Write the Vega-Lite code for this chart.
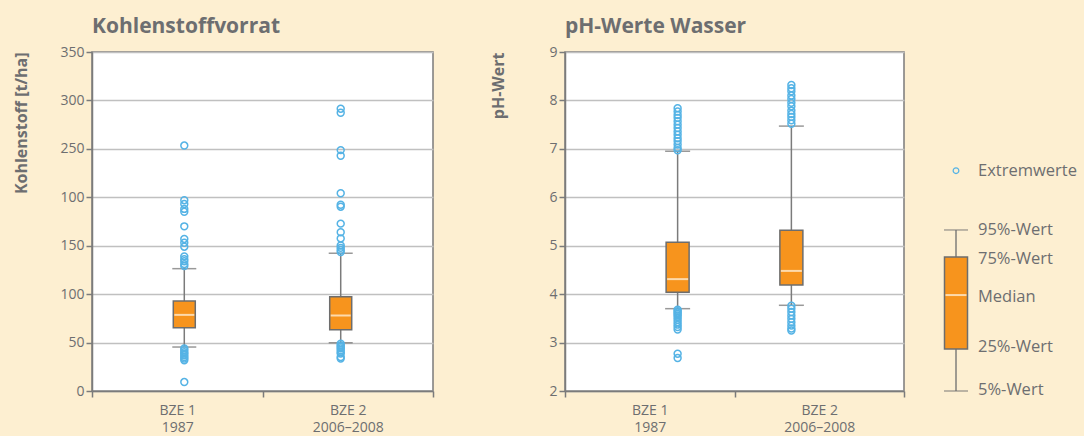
{
  "$schema": "https://vega.github.io/schema/vega-lite/v6.json",
  "background": "#fdefd1",
  "padding": {"left": 13, "top": 15, "right": 14, "bottom": 10},
  "datasets": {
    "summary": [
      {"panel": "C", "group": "BZE 1\n1987", "p5": 45.4, "q1": 65.3, "median": 78.6, "q3": 92.9, "p95": 126.3},
      {"panel": "C", "group": "BZE 2\n2006–2008", "p5": 49.9, "q1": 63.2, "median": 77.9, "q3": 97.3, "p95": 142.1},
      {"panel": "P", "group": "BZE 1\n1987", "p5": 3.70, "q1": 4.04, "median": 4.31, "q3": 5.07, "p95": 6.95},
      {"panel": "P", "group": "BZE 2\n2006–2008", "p5": 3.77, "q1": 4.19, "median": 4.48, "q3": 5.32, "p95": 7.47}
    ],
    "outliers": [
      {"panel": "C", "group": "BZE 1\n1987", "value": 253.4},
      {"panel": "C", "group": "BZE 1\n1987", "value": 197},
      {"panel": "C", "group": "BZE 1\n1987", "value": 193},
      {"panel": "C", "group": "BZE 1\n1987", "value": 188},
      {"panel": "C", "group": "BZE 1\n1987", "value": 185},
      {"panel": "C", "group": "BZE 1\n1987", "value": 170},
      {"panel": "C", "group": "BZE 1\n1987", "value": 157},
      {"panel": "C", "group": "BZE 1\n1987", "value": 153},
      {"panel": "C", "group": "BZE 1\n1987", "value": 149},
      {"panel": "C", "group": "BZE 1\n1987", "value": 139},
      {"panel": "C", "group": "BZE 1\n1987", "value": 136},
      {"panel": "C", "group": "BZE 1\n1987", "value": 134},
      {"panel": "C", "group": "BZE 1\n1987", "value": 131},
      {"panel": "C", "group": "BZE 1\n1987", "value": 129},
      {"panel": "C", "group": "BZE 1\n1987", "value": 44},
      {"panel": "C", "group": "BZE 1\n1987", "value": 42},
      {"panel": "C", "group": "BZE 1\n1987", "value": 40},
      {"panel": "C", "group": "BZE 1\n1987", "value": 38.6},
      {"panel": "C", "group": "BZE 1\n1987", "value": 37},
      {"panel": "C", "group": "BZE 1\n1987", "value": 35},
      {"panel": "C", "group": "BZE 1\n1987", "value": 33.5},
      {"panel": "C", "group": "BZE 1\n1987", "value": 31.8},
      {"panel": "C", "group": "BZE 1\n1987", "value": 9.2},
      {"panel": "C", "group": "BZE 2\n2006–2008", "value": 291.4},
      {"panel": "C", "group": "BZE 2\n2006–2008", "value": 287.3},
      {"panel": "C", "group": "BZE 2\n2006–2008", "value": 248.7},
      {"panel": "C", "group": "BZE 2\n2006–2008", "value": 242.9},
      {"panel": "C", "group": "BZE 2\n2006–2008", "value": 204.2},
      {"panel": "C", "group": "BZE 2\n2006–2008", "value": 192.3},
      {"panel": "C", "group": "BZE 2\n2006–2008", "value": 190.3},
      {"panel": "C", "group": "BZE 2\n2006–2008", "value": 172.8},
      {"panel": "C", "group": "BZE 2\n2006–2008", "value": 163.9},
      {"panel": "C", "group": "BZE 2\n2006–2008", "value": 157.5},
      {"panel": "C", "group": "BZE 2\n2006–2008", "value": 150.3},
      {"panel": "C", "group": "BZE 2\n2006–2008", "value": 147.8},
      {"panel": "C", "group": "BZE 2\n2006–2008", "value": 145.5},
      {"panel": "C", "group": "BZE 2\n2006–2008", "value": 143.5},
      {"panel": "C", "group": "BZE 2\n2006–2008", "value": 48.9},
      {"panel": "C", "group": "BZE 2\n2006–2008", "value": 47},
      {"panel": "C", "group": "BZE 2\n2006–2008", "value": 45.4},
      {"panel": "C", "group": "BZE 2\n2006–2008", "value": 44},
      {"panel": "C", "group": "BZE 2\n2006–2008", "value": 42},
      {"panel": "C", "group": "BZE 2\n2006–2008", "value": 40},
      {"panel": "C", "group": "BZE 2\n2006–2008", "value": 38.6},
      {"panel": "C", "group": "BZE 2\n2006–2008", "value": 35.1},
      {"panel": "C", "group": "BZE 2\n2006–2008", "value": 33.5},
      {"panel": "P", "group": "BZE 1\n1987", "value": 7.84},
      {"panel": "P", "group": "BZE 1\n1987", "value": 7.77},
      {"panel": "P", "group": "BZE 1\n1987", "value": 7.70},
      {"panel": "P", "group": "BZE 1\n1987", "value": 7.64},
      {"panel": "P", "group": "BZE 1\n1987", "value": 7.57},
      {"panel": "P", "group": "BZE 1\n1987", "value": 7.50},
      {"panel": "P", "group": "BZE 1\n1987", "value": 7.43},
      {"panel": "P", "group": "BZE 1\n1987", "value": 7.36},
      {"panel": "P", "group": "BZE 1\n1987", "value": 7.29},
      {"panel": "P", "group": "BZE 1\n1987", "value": 7.22},
      {"panel": "P", "group": "BZE 1\n1987", "value": 7.16},
      {"panel": "P", "group": "BZE 1\n1987", "value": 7.09},
      {"panel": "P", "group": "BZE 1\n1987", "value": 7.02},
      {"panel": "P", "group": "BZE 1\n1987", "value": 6.97},
      {"panel": "P", "group": "BZE 1\n1987", "value": 3.68},
      {"panel": "P", "group": "BZE 1\n1987", "value": 3.65},
      {"panel": "P", "group": "BZE 1\n1987", "value": 3.62},
      {"panel": "P", "group": "BZE 1\n1987", "value": 3.59},
      {"panel": "P", "group": "BZE 1\n1987", "value": 3.56},
      {"panel": "P", "group": "BZE 1\n1987", "value": 3.52},
      {"panel": "P", "group": "BZE 1\n1987", "value": 3.47},
      {"panel": "P", "group": "BZE 1\n1987", "value": 3.42},
      {"panel": "P", "group": "BZE 1\n1987", "value": 3.37},
      {"panel": "P", "group": "BZE 1\n1987", "value": 3.32},
      {"panel": "P", "group": "BZE 1\n1987", "value": 3.27},
      {"panel": "P", "group": "BZE 1\n1987", "value": 2.77},
      {"panel": "P", "group": "BZE 1\n1987", "value": 2.68},
      {"panel": "P", "group": "BZE 2\n2006–2008", "value": 8.32},
      {"panel": "P", "group": "BZE 2\n2006–2008", "value": 8.25},
      {"panel": "P", "group": "BZE 2\n2006–2008", "value": 8.19},
      {"panel": "P", "group": "BZE 2\n2006–2008", "value": 8.10},
      {"panel": "P", "group": "BZE 2\n2006–2008", "value": 8.03},
      {"panel": "P", "group": "BZE 2\n2006–2008", "value": 7.95},
      {"panel": "P", "group": "BZE 2\n2006–2008", "value": 7.88},
      {"panel": "P", "group": "BZE 2\n2006–2008", "value": 7.79},
      {"panel": "P", "group": "BZE 2\n2006–2008", "value": 7.72},
      {"panel": "P", "group": "BZE 2\n2006–2008", "value": 7.66},
      {"panel": "P", "group": "BZE 2\n2006–2008", "value": 7.59},
      {"panel": "P", "group": "BZE 2\n2006–2008", "value": 7.52},
      {"panel": "P", "group": "BZE 2\n2006–2008", "value": 3.76},
      {"panel": "P", "group": "BZE 2\n2006–2008", "value": 3.70},
      {"panel": "P", "group": "BZE 2\n2006–2008", "value": 3.63},
      {"panel": "P", "group": "BZE 2\n2006–2008", "value": 3.56},
      {"panel": "P", "group": "BZE 2\n2006–2008", "value": 3.49},
      {"panel": "P", "group": "BZE 2\n2006–2008", "value": 3.42},
      {"panel": "P", "group": "BZE 2\n2006–2008", "value": 3.35},
      {"panel": "P", "group": "BZE 2\n2006–2008", "value": 3.29},
      {"panel": "P", "group": "BZE 2\n2006–2008", "value": 3.25}
    ],
    "legendBox": [
      {"k": "L", "p5": 0, "q1": 12.4, "median": 28.3, "q3": 39.5, "p95": 47.5}
    ],
    "legendLabels": [
      {"k": "L", "label": "Extremwerte", "v": 65},
      {"k": "L", "label": "95%-Wert", "v": 47.5},
      {"k": "L", "label": "75%-Wert", "v": 39},
      {"k": "L", "label": "Median", "v": 27.7},
      {"k": "L", "label": "25%-Wert", "v": 13},
      {"k": "L", "label": "5%-Wert", "v": 0.3}
    ]
  },
  "spacing": 37,
  "hconcat": [
    {
      "spacing": 55,
      "hconcat": [
        {
          "title": {"text": "Kohlenstoffvorrat"},
          "width": 341,
          "height": 339,
          "resolve": {"scale": {"x": "independent", "y": "independent"}},
          "layer": [
            {
              "data": {"name": "summary"},
              "transform": [{"filter": "datum.panel == 'C'"}],
              "mark": {"type": "point", "opacity": 0},
              "encoding": {
                "x": {"field": "group", "type": "nominal", "scale": {"paddingInner": 0, "paddingOuter": 0},
                      "axis": {"title": null, "labelAngle": 0, "labelExpr": "split(datum.label, '\\n')", "tickBand": "extent"}},
                "y": {"field": "median", "type": "quantitative", "scale": {"domain": [0, 350], "nice": false},
                      "axis": {"title": "Kohlenstoff [t/ha]", "values": [0, 50, 100, 150, 200, 250, 300, 350],
                               "labelExpr": "datum.value == 200 ? '100' : datum.label", "titleAnchor": "end", "titlePadding": 30}}
              }
            },
            {
              "layer": [
                {
                  "data": {"name": "summary"},
                  "transform": [{"filter": "datum.panel == 'C'"}],
                  "mark": {"type": "rule", "color": "#7b7b7b", "strokeWidth": 1.5},
                  "encoding": {
                    "x": {"field": "group", "type": "nominal", "scale": {"paddingInner": 0, "paddingOuter": 0.09}, "axis": null},
                    "y": {"field": "p5", "type": "quantitative", "scale": {"domain": [0, 350], "nice": false}, "axis": null},
                    "y2": {"field": "p95"}
                  }
                },
                {
                  "data": {"name": "summary"},
                  "transform": [{"filter": "datum.panel == 'C'"}],
                  "mark": {"type": "bar", "size": 22, "fill": "#f7941d", "stroke": "#6d6d6d", "strokeWidth": 1.5},
                  "encoding": {
                    "x": {"field": "group", "type": "nominal", "scale": {"paddingInner": 0, "paddingOuter": 0.09}, "axis": null},
                    "y": {"field": "q1", "type": "quantitative", "scale": {"domain": [0, 350], "nice": false}, "axis": null},
                    "y2": {"field": "q3"}
                  }
                },
                {
                  "data": {"name": "summary"},
                  "transform": [{"filter": "datum.panel == 'C'"}],
                  "mark": {"type": "tick", "color": "#fff8ea", "size": 20, "thickness": 2},
                  "encoding": {
                    "x": {"field": "group", "type": "nominal", "scale": {"paddingInner": 0, "paddingOuter": 0.09}, "axis": null},
                    "y": {"field": "median", "type": "quantitative", "scale": {"domain": [0, 350], "nice": false}, "axis": null}
                  }
                },
                {
                  "data": {"name": "summary"},
                  "transform": [{"filter": "datum.panel == 'C'"}, {"fold": ["p5", "p95"], "as": ["k", "v"]}],
                  "mark": {"type": "tick", "color": "#6d6d6d", "size": 24, "thickness": 1.5},
                  "encoding": {
                    "x": {"field": "group", "type": "nominal", "scale": {"paddingInner": 0, "paddingOuter": 0.09}, "axis": null},
                    "y": {"field": "v", "type": "quantitative", "scale": {"domain": [0, 350], "nice": false}, "axis": null}
                  }
                },
                {
                  "data": {"name": "outliers"},
                  "transform": [{"filter": "datum.panel == 'C'"}],
                  "mark": {"type": "point", "shape": "circle", "filled": false, "size": 48, "stroke": "#55b3e5", "strokeWidth": 1.5, "opacity": 1},
                  "encoding": {
                    "x": {"field": "group", "type": "nominal", "scale": {"paddingInner": 0, "paddingOuter": 0.09}, "axis": null},
                    "y": {"field": "value", "type": "quantitative", "scale": {"domain": [0, 350], "nice": false}, "axis": null}
                  }
                }
              ]
            }
          ]
        },
        {
          "title": {"text": "pH-Werte Wasser"},
          "width": 339,
          "height": 339,
          "resolve": {"scale": {"x": "independent", "y": "independent"}},
          "layer": [
            {
              "data": {"name": "summary"},
              "transform": [{"filter": "datum.panel == 'P'"}],
              "mark": {"type": "point", "opacity": 0},
              "encoding": {
                "x": {"field": "group", "type": "nominal", "scale": {"paddingInner": 0, "paddingOuter": 0},
                      "axis": {"title": null, "labelAngle": 0, "labelExpr": "split(datum.label, '\\n')", "tickBand": "extent"}},
                "y": {"field": "median", "type": "quantitative", "scale": {"domain": [2, 9], "nice": false},
                      "axis": {"title": "pH-Wert", "values": [2, 3, 4, 5, 6, 7, 8, 9], "titleAnchor": "end", "titlePadding": 42}}
              }
            },
            {
              "layer": [
                {
                  "data": {"name": "summary"},
                  "transform": [{"filter": "datum.panel == 'P'"}],
                  "mark": {"type": "rule", "color": "#7b7b7b", "strokeWidth": 1.5},
                  "encoding": {
                    "x": {"field": "group", "type": "nominal", "scale": {"paddingInner": 0, "paddingOuter": 0.49}, "axis": null},
                    "y": {"field": "p5", "type": "quantitative", "scale": {"domain": [2, 9], "nice": false}, "axis": null},
                    "y2": {"field": "p95"}
                  }
                },
                {
                  "data": {"name": "summary"},
                  "transform": [{"filter": "datum.panel == 'P'"}],
                  "mark": {"type": "bar", "size": 23, "fill": "#f7941d", "stroke": "#6d6d6d", "strokeWidth": 1.5},
                  "encoding": {
                    "x": {"field": "group", "type": "nominal", "scale": {"paddingInner": 0, "paddingOuter": 0.49}, "axis": null},
                    "y": {"field": "q1", "type": "quantitative", "scale": {"domain": [2, 9], "nice": false}, "axis": null},
                    "y2": {"field": "q3"}
                  }
                },
                {
                  "data": {"name": "summary"},
                  "transform": [{"filter": "datum.panel == 'P'"}],
                  "mark": {"type": "tick", "color": "#fff8ea", "size": 21, "thickness": 2},
                  "encoding": {
                    "x": {"field": "group", "type": "nominal", "scale": {"paddingInner": 0, "paddingOuter": 0.49}, "axis": null},
                    "y": {"field": "median", "type": "quantitative", "scale": {"domain": [2, 9], "nice": false}, "axis": null}
                  }
                },
                {
                  "data": {"name": "summary"},
                  "transform": [{"filter": "datum.panel == 'P'"}, {"fold": ["p5", "p95"], "as": ["k", "v"]}],
                  "mark": {"type": "tick", "color": "#6d6d6d", "size": 25, "thickness": 1.5},
                  "encoding": {
                    "x": {"field": "group", "type": "nominal", "scale": {"paddingInner": 0, "paddingOuter": 0.49}, "axis": null},
                    "y": {"field": "v", "type": "quantitative", "scale": {"domain": [2, 9], "nice": false}, "axis": null}
                  }
                },
                {
                  "data": {"name": "outliers"},
                  "transform": [{"filter": "datum.panel == 'P'"}],
                  "mark": {"type": "point", "shape": "circle", "filled": false, "size": 48, "stroke": "#55b3e5", "strokeWidth": 1.5, "opacity": 1},
                  "encoding": {
                    "x": {"field": "group", "type": "nominal", "scale": {"paddingInner": 0, "paddingOuter": 0.49}, "axis": null},
                    "y": {"field": "value", "type": "quantitative", "scale": {"domain": [2, 9], "nice": false}, "axis": null}
                  }
                }
              ]
            }
          ]
        }
      ]
    },
    {
      "width": 24,
      "height": 339,
      "view": {"stroke": null, "fill": null},
      "layer": [
        {
          "data": {"name": "legendBox"},
          "mark": {"type": "rule", "color": "#6d6d6d", "strokeWidth": 1.3},
          "encoding": {
            "x": {"field": "k", "type": "nominal", "scale": {"padding": 0}, "axis": null},
            "y": {"field": "p5", "type": "quantitative", "scale": {"domain": [0, 100], "nice": false}, "axis": null},
            "y2": {"field": "p95"}
          }
        },
        {
          "data": {"name": "legendBox"},
          "mark": {"type": "bar", "size": 23, "fill": "#f7941d", "stroke": "#6d6d6d", "strokeWidth": 1.5},
          "encoding": {
            "x": {"field": "k", "type": "nominal", "scale": {"padding": 0}, "axis": null},
            "y": {"field": "q1", "type": "quantitative", "scale": {"domain": [0, 100], "nice": false}, "axis": null},
            "y2": {"field": "q3"}
          }
        },
        {
          "data": {"name": "legendBox"},
          "mark": {"type": "tick", "color": "#fff8ea", "size": 21, "thickness": 2},
          "encoding": {
            "x": {"field": "k", "type": "nominal", "scale": {"padding": 0}, "axis": null},
            "y": {"field": "median", "type": "quantitative", "scale": {"domain": [0, 100], "nice": false}, "axis": null}
          }
        },
        {
          "data": {"name": "legendBox"},
          "transform": [{"fold": ["p5", "p95"], "as": ["kk", "v"]}],
          "mark": {"type": "tick", "color": "#6d6d6d", "size": 24, "thickness": 1.3},
          "encoding": {
            "x": {"field": "k", "type": "nominal", "scale": {"padding": 0}, "axis": null},
            "y": {"field": "v", "type": "quantitative", "scale": {"domain": [0, 100], "nice": false}, "axis": null}
          }
        },
        {
          "data": {"name": "legendLabels"},
          "transform": [{"filter": "datum.label == 'Extremwerte'"}],
          "mark": {"type": "point", "shape": "circle", "filled": false, "size": 32, "stroke": "#55b3e5", "strokeWidth": 1.3, "opacity": 1},
          "encoding": {
            "x": {"field": "k", "type": "nominal", "scale": {"padding": 0}, "axis": null},
            "y": {"field": "v", "type": "quantitative", "scale": {"domain": [0, 100], "nice": false}, "axis": null}
          }
        },
        {
          "data": {"name": "legendLabels"},
          "mark": {"type": "text", "align": "left", "baseline": "middle", "dx": 22, "fontSize": 16.5, "color": "#6d6e70", "font": "Open Sans"},
          "encoding": {
            "x": {"field": "k", "type": "nominal", "scale": {"padding": 0}, "axis": null},
            "y": {"field": "v", "type": "quantitative", "scale": {"domain": [0, 100], "nice": false}, "axis": null},
            "text": {"field": "label"}
          }
        }
      ]
    }
  ],
  "config": {
    "font": "Open Sans",
    "view": {"stroke": "#7b7b7b", "strokeWidth": 1.5, "fill": "white"},
    "axis": {
      "labelFont": "Open Sans", "labelFontSize": 14, "labelColor": "#6d6e70",
      "domainColor": "#7b7b7b", "domainWidth": 1.5, "tickColor": "#7b7b7b", "tickWidth": 1.5, "tickSize": 6,
      "gridColor": "#c0c0c0", "gridWidth": 1.5,
      "titleFont": "Open Sans", "titleFontSize": 16, "titleFontWeight": "bold", "titleColor": "#6d6e70"
    },
    "axisX": {"grid": false, "labelPadding": 6, "labelLineHeight": 17},
    "title": {"font": "Open Sans", "fontSize": 21, "fontWeight": "bold", "color": "#6d6e70", "anchor": "start", "frame": "group", "offset": 8}
  }
}
